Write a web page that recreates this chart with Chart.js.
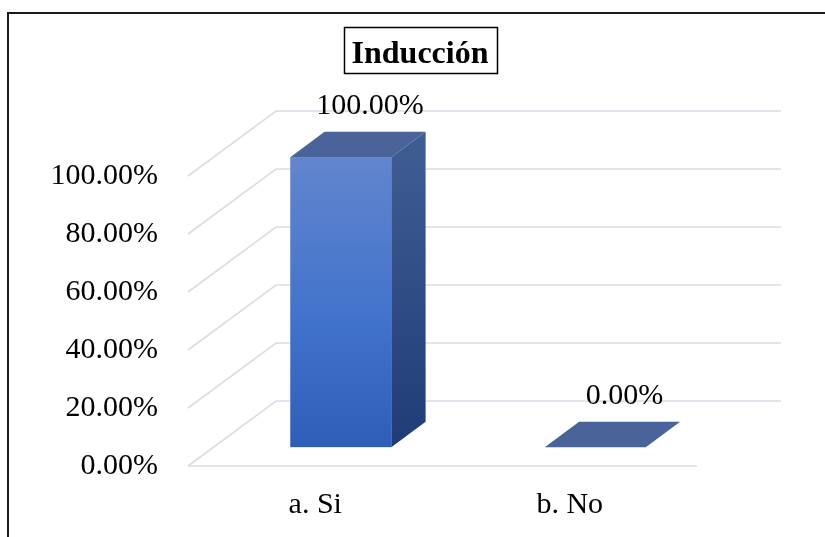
<!DOCTYPE html>
<html>
<head>
<meta charset="utf-8">
<script src="https://cdn.jsdelivr.net/npm/chart.js@4/dist/chart.umd.min.js"></script>
<style>
  html, body { margin: 0; padding: 0; background: #ffffff; }
  #wrap { width: 825px; height: 537px; }
</style>
</head>
<body>
<div id="wrap"><canvas id="c" width="825" height="537"></canvas></div>
<script>
// Survey answers and their shares
const categories = ['a. Si', 'b. No'];
const values = [1.00, 0.00];
const tickValues = [0, 0.2, 0.4, 0.6, 0.8, 1.0];
const tickLabels = ['0.00%', '20.00%', '40.00%', '60.00%', '80.00%', '100.00%'];
const chartTitle = 'Inducción';

const SERIF = '"Liberation Serif", "Times New Roman", serif';

// Oblique depth of the 3D box (full floor depth) and the bar slab within it
const DEPTH = { dx: 88, dy: -65 };
const SLAB = { front: 0.29, back: 0.68 };

function fmtPct(v) { return (v * 100).toFixed(2) + '%'; }

const box3d = {
  id: 'box3d',
  beforeDraw(chart) {
    const ctx = chart.ctx;
    ctx.save();
    ctx.fillStyle = '#ffffff';
    ctx.fillRect(0, 0, chart.width, chart.height);
    ctx.restore();
  },
  beforeDatasetsDraw(chart) {
    const ctx = chart.ctx;
    const area = chart.chartArea;
    const y = chart.scales.y;
    ctx.save();
    ctx.strokeStyle = '#d9dde5';
    ctx.lineWidth = 1.6;
    ctx.lineCap = 'butt';
    // back wall lines + side wall diagonals
    tickValues.forEach(v => {
      const py = y.getPixelForValue(v);
      ctx.beginPath();
      ctx.moveTo(area.left, py);
      ctx.lineTo(area.left + DEPTH.dx, py + DEPTH.dy);
      ctx.lineTo(area.right + DEPTH.dx - 4, py + DEPTH.dy);
      ctx.stroke();
    });
    // front edge of the floor
    const p0 = y.getPixelForValue(0);
    ctx.beginPath();
    ctx.moveTo(area.left, p0);
    ctx.lineTo(area.right, p0);
    ctx.stroke();
    ctx.restore();

    // bars
    const meta = chart.getDatasetMeta(0);
    const fx = SLAB.front * DEPTH.dx, fy = SLAB.front * DEPTH.dy;
    const bx = (SLAB.back - SLAB.front) * DEPTH.dx, by = (SLAB.back - SLAB.front) * DEPTH.dy;
    meta.data.forEach(bar => {
      const p = bar.getProps(['x', 'y', 'base', 'width'], true);
      const L = p.x - p.width / 2 + fx, R = p.x + p.width / 2 + fx;
      const T = p.y + fy, B = p.base + fy;
      ctx.save();
      if (B - T > 0.5) {
        // front face
        const g = ctx.createLinearGradient(0, T, 0, B);
        g.addColorStop(0, '#6285cd');
        g.addColorStop(0.55, '#4273cc');
        g.addColorStop(1, '#2e5eb8');
        ctx.fillStyle = g;
        ctx.fillRect(L, T, R - L, B - T);
        // side face
        const gs = ctx.createLinearGradient(0, T, 0, B);
        gs.addColorStop(0, '#3e5b92');
        gs.addColorStop(1, '#1f3c77');
        ctx.fillStyle = gs;
        ctx.beginPath();
        ctx.moveTo(R, T);
        ctx.lineTo(R + bx, T + by);
        ctx.lineTo(R + bx, B + by);
        ctx.lineTo(R, B);
        ctx.closePath();
        ctx.fill();
      }
      // top face
      ctx.fillStyle = '#4a6399';
      ctx.beginPath();
      ctx.moveTo(L, T);
      ctx.lineTo(L + bx, T + by);
      ctx.lineTo(R + bx, T + by);
      ctx.lineTo(R, T);
      ctx.closePath();
      ctx.fill();
      ctx.restore();
    });
  },
  afterDraw(chart) {
    const ctx = chart.ctx;
    const meta = chart.getDatasetMeta(0);
    ctx.save();
    // value labels above each bar's top face
    ctx.fillStyle = '#000000';
    ctx.font = '30px ' + SERIF;
    ctx.textAlign = 'center';
    ctx.textBaseline = 'middle';
    meta.data.forEach((bar, i) => {
      const p = bar.getProps(['x', 'y'], true);
      const cx = p.x + 0.5 * (SLAB.front + SLAB.back) * DEPTH.dx;
      const cy = p.y + 0.5 * (SLAB.front + SLAB.back) * DEPTH.dy;
      ctx.fillText(fmtPct(values[i]), cx + 12, cy - 38);
    });

    // boxed title
    ctx.font = 'bold 32px ' + SERIF;
    ctx.textAlign = 'center';
    ctx.textBaseline = 'alphabetic';
    const tx = 420, ty = 63;
    ctx.fillText(chartTitle, tx, ty);
    const tw = ctx.measureText(chartTitle).width;
    ctx.strokeStyle = '#000000';
    ctx.lineWidth = 1.5;
    ctx.strokeRect(Math.round(tx - tw / 2 - 8) + 0.5, 27.5, Math.round(tw + 16), 46);

    // outer frame
    ctx.strokeStyle = '#1a1a1a';
    ctx.lineWidth = 2;
    ctx.beginPath();
    ctx.moveTo(8, chart.height + 2);
    ctx.lineTo(8, 13);
    ctx.lineTo(chart.width + 2, 13);
    ctx.stroke();
    ctx.restore();
  }
};

new Chart(document.getElementById('c'), {
  type: 'bar',
  data: {
    labels: categories,
    datasets: [{
      data: values,
      backgroundColor: 'rgba(0,0,0,0)',
      borderWidth: 0,
      barPercentage: 0.397,
      categoryPercentage: 1.0
    }]
  },
  options: {
    responsive: false,
    animation: false,
    devicePixelRatio: 1,
    layout: { padding: { left: 20, right: 128, top: 176, bottom: 0 } },
    plugins: {
      legend: { display: false },
      title: { display: false },
      tooltip: { enabled: false }
    },
    scales: {
      x: {
        grid: { display: false, drawTicks: false },
        border: { display: false },
        ticks: { color: '#000000', font: { family: SERIF, size: 30 }, padding: 21, maxRotation: 0 },
        afterFit(s) { s.height = 71; }
      },
      y: {
        min: 0,
        max: 1,
        afterBuildTicks(s) { s.ticks = tickValues.map(v => ({ value: v })); },
        grid: { display: false, drawTicks: false },
        border: { display: false },
        ticks: {
          color: '#000000',
          font: { family: SERIF, size: 30 },
          padding: 30,
          callback: (v, i) => tickLabels[i]
        },
        afterFit(s) { s.width = 168; }
      }
    }
  },
  plugins: [box3d]
});
</script>
</body>
</html>
